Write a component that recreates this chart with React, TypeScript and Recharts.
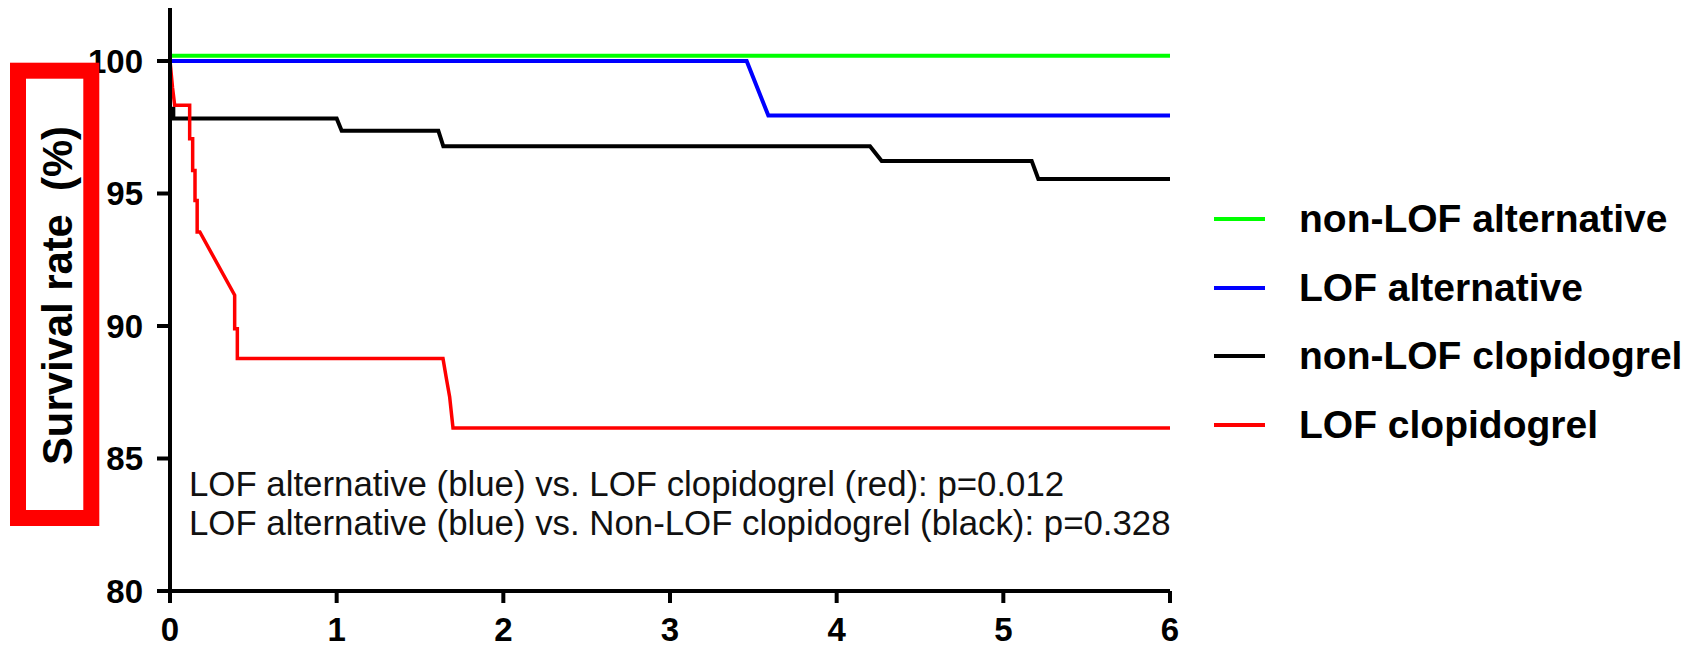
import { LineChart, Line, XAxis, YAxis, Legend } from 'recharts'

// time (x) and survival % (y)
const nonLofAltTime = [0, 6]
const nonLofAltSurv = [100.2, 100.2]

const lofAltTime = [0, 3.46, 3.59, 6]
const lofAltSurv = [100, 100, 97.94, 97.94]

const nonLofClopTime = [0, 0, 0.02, 0.02, 1.0, 1.03, 1.61, 1.64, 4.2, 4.27, 5.17, 5.21, 6]
const nonLofClopSurv = [100, 98.2, 98.2, 97.83, 97.83, 97.37, 97.37, 96.78, 96.78, 96.23, 96.23, 95.55, 95.55]

const lofClopTime = [0, 0.015, 0.028, 0.118, 0.118, 0.136, 0.136, 0.15, 0.15, 0.163, 0.163, 0.179, 0.388, 0.388, 0.404, 0.404, 1.638, 1.658, 1.678, 1.698, 6]
const lofClopSurv = [100, 99.0, 98.33, 98.33, 97.07, 97.07, 95.87, 95.87, 94.74, 94.74, 93.55, 93.55, 91.16, 89.9, 89.9, 88.77, 88.77, 88.03, 87.32, 86.15, 86.15]

const seriesNames = ['non-LOF alternative', 'LOF alternative', 'non-LOF clopidogrel', 'LOF clopidogrel']
const seriesColors = ['#00ff00', '#0000ff', '#000000', '#ff0000']

const xTicks = [0, 1, 2, 3, 4, 5, 6]
const yTicks = [80, 85, 90, 95, 100]

const notes = [
  'LOF alternative (blue) vs. LOF clopidogrel (red): p=0.012',
  'LOF alternative (blue) vs. Non-LOF clopidogrel (black): p=0.328',
]

const FONT = "'Liberation Sans', Arial, sans-serif"

function toPoints(t: number[], v: number[]) {
  return t.map((x, i) => ({ t: x, v: v[i] }))
}

const series = [
  toPoints(nonLofAltTime, nonLofAltSurv),
  toPoints(lofAltTime, lofAltSurv),
  toPoints(nonLofClopTime, nonLofClopSurv),
  toPoints(lofClopTime, lofClopSurv),
]
const widths = [4, 4, 4, 3.5]

function LegendBox() {
  return (
    <div style={{ fontFamily: FONT, fontWeight: 'bold', fontSize: 39, color: '#000' }}>
      {seriesNames.map((n, i) => (
        <div key={n} style={{ display: 'flex', alignItems: 'center', height: 68.5, whiteSpace: 'nowrap' }}>
          <div style={{ width: 51, height: 4, background: seriesColors[i], marginRight: 34 }} />
          <span>{n}</span>
        </div>
      ))}
    </div>
  )
}

export default function App() {
  return (
    <div style={{ position: 'relative', width: 1703, height: 647, overflow: 'hidden', background: '#fff' }}>
      <style>{'body{margin:0}'}</style>
      <LineChart width={1703} height={647} margin={{ top: 8, right: 533, bottom: 0, left: 0 }}>
        <XAxis
          type="number"
          dataKey="t"
          domain={[0, 6]}
          ticks={xTicks}
          height={56}
          tickSize={12}
          tickMargin={15}
          axisLine={{ stroke: '#000', strokeWidth: 4 }}
          tickLine={{ stroke: '#000', strokeWidth: 4 }}
          tick={{ fontSize: 33, fontWeight: 'bold', fill: '#000', fontFamily: FONT }}
        />
        <YAxis
          type="number"
          dataKey="v"
          domain={[80, 102]}
          ticks={yTicks}
          width={170}
          tickSize={13}
          tickMargin={14}
          axisLine={{ stroke: '#000', strokeWidth: 4 }}
          tickLine={{ stroke: '#000', strokeWidth: 4 }}
          tick={{ fontSize: 33, fontWeight: 'bold', fill: '#000', fontFamily: FONT }}
          label={{
            content: () => (
              <text
                x={71.7}
                y={295.5}
                transform="rotate(-90, 71.7, 295.5)"
                textAnchor="middle"
                fontSize={42}
                fontWeight="bold"
                fontFamily={FONT}
                fill="#000"
                textLength={339}
                lengthAdjust="spacingAndGlyphs"
                style={{ whiteSpace: 'pre' }}
              >
                {'Survival rate  (%)'}
              </text>
            ),
          }}
        />
        <Legend
          layout="horizontal"
          verticalAlign="bottom"
          align="left"
          content={() => <LegendBox />}
          wrapperStyle={{ position: 'absolute', left: 1214, top: 184.75, width: 489, height: 0, overflow: 'visible' }}
        />
        {series.map((d, i) => (
          <Line
            key={seriesNames[i]}
            data={d}
            dataKey="v"
            name={seriesNames[i]}
            type="linear"
            stroke={seriesColors[i]}
            strokeWidth={widths[i]}
            dot={false}
            activeDot={false}
            isAnimationActive={false}
          />
        ))}
      </LineChart>
      <svg width={1703} height={647} style={{ position: 'absolute', left: 0, top: 0, pointerEvents: 'none' }}>
        <rect x={18} y={70.7} width={73.3} height={447.3} fill="none" stroke="#ff0000" strokeWidth={16} />
        {notes.map((n, i) => (
          <text key={n} x={189} y={496 + i * 39} fontSize={34.8} fontFamily={FONT} fill="#111">
            {n}
          </text>
        ))}
      </svg>
    </div>
  )
}
